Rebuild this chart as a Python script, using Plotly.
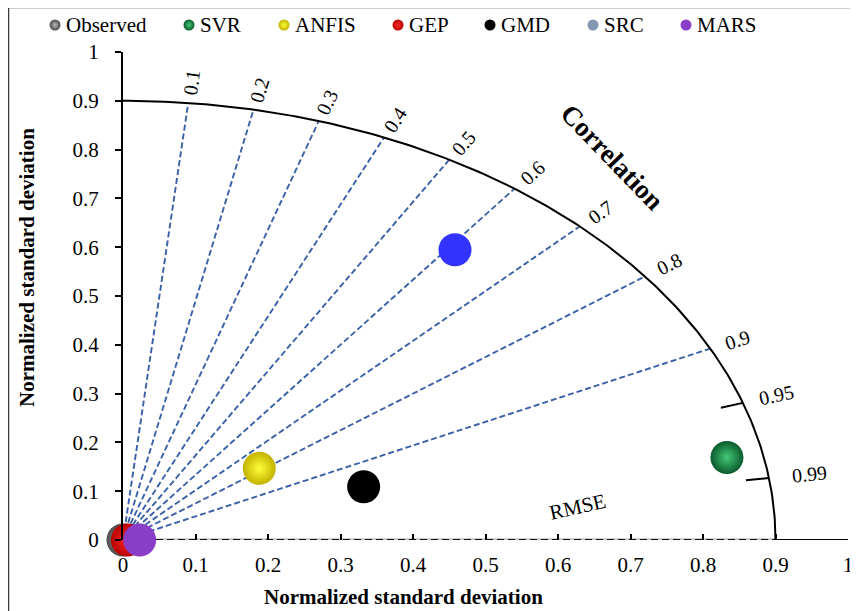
import numpy as np
import plotly.graph_objects as go

# ---------------- data ----------------
models = ["Observed", "SVR", "ANFIS", "GEP", "GMD", "SRC", "MARS"]
norm_std = [0.000, 0.850, 0.2385, 0.006, 0.3494, 0.7507, 0.023]   # normalized standard deviation
correlation = [1.000, 0.980, 0.788, 1.000, 0.950, 0.610, 1.000]    # correlation with observed
corr_lines = [0.1, 0.2, 0.3, 0.4, 0.5, 0.6, 0.7, 0.8, 0.9]
corr_ticks = [0.95, 0.99]
arc_std = 0.9
axis_ticks = [0, 0.1, 0.2, 0.3, 0.4, 0.5, 0.6, 0.7, 0.8, 0.9, 1]

# ---------------- style ----------------
W, H = 858, 611
OFF = 8                                      # page body margin offset
X0, X1, Y0, Y1 = 123, 848, 540, 52          # pixel frame of the plot area (screen coords)
FONT = "Liberation Serif"
plot_colors = {
    "Observed": ("#4a4a4a", "#b8b8b8"),
    "SVR": ("#0a5a2c", "#44c877"),
    "ANFIS": ("#c2b200", "#ffff3a"),
    "GEP": ("#b80000", "#ff2a2a"),
    "GMD": ("#000000", None),
    "SRC": ("#3333ff", None),
    "MARS": ("#8a3ec8", None),
}
legend_colors = dict(plot_colors)
legend_colors["SRC"] = ("#8498b2", None)
legend_px = {"Observed": 55, "SVR": 189, "ANFIS": 284, "GEP": 398,
             "GMD": 490, "SRC": 593, "MARS": 686}
LINE_BLUE = "#3a61a8"


def pxx(px):
    return (px - OFF) / W


def pxy(py):
    return 1 - (py - OFF) / H


fig = go.Figure()

# baseline along x (gray under dashed black up to the arc, solid beyond)
fig.add_trace(go.Scatter(x=[0, arc_std], y=[0, 0], mode="lines",
                         line=dict(color="#c4c4c4", width=3.5),
                         hoverinfo="skip", showlegend=False, cliponaxis=False))
fig.add_trace(go.Scatter(x=[0, arc_std], y=[0, 0], mode="lines",
                         line=dict(color="#111111", width=2, dash="7px,4px"),
                         hoverinfo="skip", showlegend=False, cliponaxis=False))
fig.add_trace(go.Scatter(x=[arc_std, 1], y=[0, 0], mode="lines",
                         line=dict(color="black", width=2),
                         hoverinfo="skip", showlegend=False, cliponaxis=False))

# correlation rays
for r in corr_lines:
    th = np.arccos(r)
    fig.add_trace(go.Scatter(x=[0, arc_std * np.cos(th)], y=[0, arc_std * np.sin(th)],
                             mode="lines", line=dict(color=LINE_BLUE, width=1.9, dash="6px,3px"),
                             hoverinfo="skip", showlegend=False))

# correlation ticks (inward)
for r in corr_ticks:
    th = np.arccos(r)
    fig.add_trace(go.Scatter(x=[0.868 * np.cos(th), arc_std * np.cos(th)],
                             y=[0.868 * np.sin(th), arc_std * np.sin(th)],
                             mode="lines", line=dict(color="black", width=2),
                             hoverinfo="skip", showlegend=False))

# arc
ang = np.linspace(0, np.pi / 2, 200)
fig.add_trace(go.Scatter(x=arc_std * np.cos(ang), y=arc_std * np.sin(ang), mode="lines",
                         line=dict(color="black", width=2),
                         hoverinfo="skip", showlegend=False, cliponaxis=False))

# model points
for name, s, c in zip(models, norm_std, correlation):
    th = np.arccos(c)
    edge, center = plot_colors[name]
    marker = dict(size=33, color=edge, line=dict(width=0))
    if center:
        marker["gradient"] = dict(type="radial", color=center)
    fig.add_trace(go.Scatter(x=[s * np.cos(th)], y=[s * np.sin(th)], mode="markers",
                             marker=marker, name=name, showlegend=False, cliponaxis=False))

# legend (drawn in a pixel-space overlay subplot)
for name in models:
    edge, center = legend_colors[name]
    marker = dict(size=11, color=edge, line=dict(width=0))
    if center:
        marker["gradient"] = dict(type="radial", color=center)
    fig.add_trace(go.Scatter(x=[legend_px[name] - OFF], y=[25 - OFF], mode="markers", marker=marker,
                             xaxis="x2", yaxis="y2", showlegend=False, hoverinfo="skip",
                             cliponaxis=False))

annotations = []
for name in models:
    annotations.append(dict(x=pxx(legend_px[name] + 9), y=pxy(25), xref="paper", yref="paper",
                            text=name, showarrow=False, xanchor="left", yanchor="middle",
                            font=dict(family=FONT, size=21, color="black")))


def to_px(x, y):
    return X0 + x * (X1 - X0), Y0 - y * (Y0 - Y1)


def text_w(s, fs):
    return sum(0.25 if ch == "." else 0.5 for ch in s) * fs


extra_gap = {0.95: 0, 0.99: 6}
for r in corr_lines + corr_ticks:
    lab = f"{r:g}"
    th = np.arccos(r)
    px, py = to_px(arc_std * np.cos(th), arc_std * np.sin(th))
    vx, vy = px - X0, Y0 - py
    n = np.hypot(vx, vy)
    ux, uy = vx / n, vy / n
    phi = np.degrees(np.arctan2(vy, vx))
    fs = 20
    d = 8 + max(0.0, r - 0.4) * 16 + extra_gap.get(r, 0) + text_w(lab, fs) / 2
    cx, cy = px + d * ux, py - d * uy
    annotations.append(dict(x=pxx(cx), y=pxy(cy), xref="paper", yref="paper", text=lab,
                            showarrow=False, textangle=-phi, xanchor="center", yanchor="middle",
                            font=dict(family=FONT, size=fs, color="black")))

annotations += [
    dict(x=pxx(612), y=pxy(157), xref="paper", yref="paper", text="<b>Correlation</b>",
         showarrow=False, textangle=46, xanchor="center", yanchor="middle",
         font=dict(family=FONT, size=27, color="black")),
    dict(x=pxx(577), y=pxy(507), xref="paper", yref="paper", text="RMSE",
         showarrow=False, textangle=-13, xanchor="center", yanchor="middle",
         font=dict(family=FONT, size=21, color="black")),
    dict(x=pxx(403), y=pxy(597), xref="paper", yref="paper",
         text="<b>Normalized standard deviation</b>", showarrow=False,
         xanchor="center", yanchor="middle",
         font=dict(family=FONT, size=21, color="black")),
    dict(x=pxx(27), y=pxy(268), xref="paper", yref="paper",
         text="<b>Normalized standard deviation</b>", showarrow=False, textangle=-90,
         xanchor="center", yanchor="middle",
         font=dict(family=FONT, size=21, color="black")),
]

fig.update_layout(
    width=W, height=H,
    margin=dict(l=0, r=0, t=0, b=0),
    paper_bgcolor="white", plot_bgcolor="rgba(0,0,0,0)",
    showlegend=False,
    font=dict(family=FONT, size=21, color="black"),
    xaxis=dict(domain=[pxx(X0), pxx(X1)], range=[0, 1], anchor="y",
               tickvals=axis_ticks, ticks="inside", ticklen=6, tickwidth=1.5, tickcolor="black",
               showline=False, showgrid=False, zeroline=False, ticklabelstandoff=10,
               tickfont=dict(family=FONT, size=21, color="black"), automargin=False),
    yaxis=dict(domain=[pxy(Y0), pxy(Y1)], range=[0, 1], anchor="x",
               tickvals=axis_ticks, ticks="outside", ticklen=6, tickwidth=1.5, tickcolor="black",
               showline=True, linecolor="black", linewidth=2,
               showgrid=False, zeroline=False, ticklabelstandoff=12,
               tickfont=dict(family=FONT, size=21, color="black"), automargin=False),
    xaxis2=dict(domain=[0, 1], range=[0, W], anchor="y2", visible=False, fixedrange=True),
    yaxis2=dict(domain=[0, 1], range=[H, 0], anchor="x2", visible=False, fixedrange=True),
    annotations=annotations,
    shapes=[dict(type="rect", xref="paper", yref="paper", x0=pxx(8.5), y0=pxy(7.5), x1=1.05, y1=-0.05,
                 line=dict(color="#3a3a3a", width=1.5), fillcolor="rgba(0,0,0,0)")],
)

fig.write_html("out.html")
